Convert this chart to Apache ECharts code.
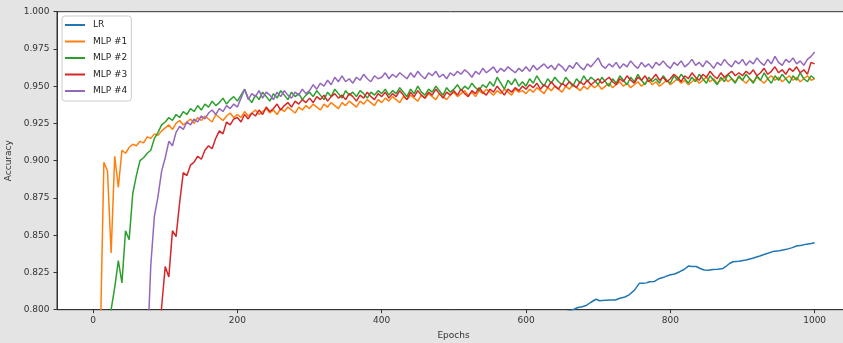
<!DOCTYPE html>
<html>
<head>
<meta charset="utf-8">
<script src="https://cdn.jsdelivr.net/npm/echarts@6/dist/echarts.min.js"></script>
<style>
html,body{margin:0;padding:0;background:#e4e4e4;}
#chart{width:843px;height:343px;}
</style>
</head>
<body>
<div id="chart"></div>
<script>
// Epoch grid (every 5 epochs) for the MLP curves
const epochs = [];
for (let e = 0; e <= 1000; e += 5) epochs.push(e);

const seriesNames = ['LR', 'MLP #1', 'MLP #2', 'MLP #3', 'MLP #4'];
const xTicks = [0, 200, 400, 600, 800, 1000];

const lrEpochs = [600, 665, 672, 678, 684, 690, 697, 702, 710, 716, 724, 730, 737, 743, 750, 757, 762, 767, 771, 778,
  785, 792, 799, 806, 813, 819, 825, 830, 836, 842, 847, 853, 859, 866, 873, 877, 882, 887, 895, 905,
  914, 924, 933, 942, 951, 961, 968, 975, 982, 989, 995, 1000];
const lrAcc = [0.790, 0.800, 0.8015, 0.802, 0.803, 0.805, 0.807, 0.806, 0.8063, 0.8065, 0.8065, 0.8077, 0.8085, 0.810, 0.813, 0.8177, 0.8177, 0.818, 0.8188, 0.819,
  0.821, 0.822, 0.8233, 0.824, 0.8255, 0.827, 0.8293, 0.8290, 0.829, 0.8275, 0.8266, 0.8265, 0.827, 0.8272, 0.8277, 0.829, 0.831, 0.8322, 0.8325, 0.8333,
  0.8345, 0.836, 0.8375, 0.839, 0.8395, 0.8405, 0.8415, 0.8427, 0.8432, 0.844, 0.8445, 0.845];

const mlp1Acc = [
  0.70, 0.74, 0.78, 0.899, 0.893, 0.838, 0.903, 0.882, 0.907, 0.905, 0.909, 0.911, 0.910, 0.913, 0.912, 0.916, 0.915, 0.918, 0.917, 0.920,
  0.922, 0.924, 0.921, 0.925, 0.927, 0.924, 0.926, 0.928, 0.925, 0.929, 0.927, 0.930, 0.928, 0.926, 0.931, 0.929, 0.927, 0.930, 0.932, 0.929,
  0.931, 0.929, 0.933, 0.930, 0.932, 0.934, 0.931, 0.933, 0.935, 0.932, 0.934, 0.931, 0.935, 0.933, 0.936, 0.934, 0.932, 0.936, 0.934, 0.937,
  0.935, 0.938, 0.936, 0.934, 0.938, 0.936, 0.939, 0.937, 0.935, 0.939, 0.937, 0.940, 0.938, 0.936, 0.940, 0.938, 0.941, 0.939, 0.937, 0.941,
  0.939, 0.942, 0.940, 0.943, 0.941, 0.939, 0.943, 0.941, 0.944, 0.942, 0.940, 0.944, 0.942, 0.945, 0.943, 0.941, 0.945, 0.943, 0.941, 0.944,
  0.946, 0.943, 0.945, 0.947, 0.944, 0.946, 0.943, 0.947, 0.945, 0.948, 0.946, 0.944, 0.947, 0.945, 0.948, 0.946, 0.944, 0.948, 0.946, 0.947,
  0.945, 0.948, 0.946, 0.949, 0.947, 0.945, 0.949, 0.947, 0.950, 0.948, 0.946, 0.950, 0.948, 0.951, 0.949, 0.947, 0.950, 0.948, 0.951, 0.949,
  0.951, 0.948, 0.950, 0.952, 0.949, 0.951, 0.953, 0.950, 0.952, 0.949, 0.951, 0.953, 0.950, 0.952, 0.954, 0.951, 0.953, 0.950, 0.952, 0.954,
  0.951, 0.953, 0.955, 0.952, 0.954, 0.951, 0.953, 0.955, 0.952, 0.954, 0.956, 0.953, 0.955, 0.952, 0.954, 0.956, 0.953, 0.955, 0.953, 0.956,
  0.954, 0.952, 0.955, 0.953, 0.956, 0.954, 0.952, 0.955, 0.957, 0.954, 0.956, 0.953, 0.955, 0.957, 0.954, 0.956, 0.953, 0.955, 0.957, 0.954, 0.955
];

const mlp2Acc = [
  0.60, 0.65, 0.70, 0.74, 0.77, 0.80, 0.815, 0.833, 0.818, 0.853, 0.847, 0.878, 0.890, 0.900, 0.902, 0.905, 0.907, 0.915, 0.919, 0.924,
  0.926, 0.929, 0.927, 0.931, 0.929, 0.933, 0.931, 0.935, 0.933, 0.937, 0.934, 0.938, 0.936, 0.940, 0.937, 0.939, 0.942, 0.938, 0.941, 0.943,
  0.940, 0.944, 0.948, 0.942, 0.939, 0.944, 0.941, 0.946, 0.943, 0.940, 0.945, 0.942, 0.947, 0.944, 0.941, 0.946, 0.943, 0.945, 0.941, 0.944,
  0.946, 0.943, 0.947, 0.944, 0.941, 0.946, 0.943, 0.948, 0.945, 0.942, 0.947, 0.944, 0.946, 0.943, 0.947, 0.945, 0.942, 0.946, 0.944, 0.947,
  0.945, 0.948, 0.944, 0.947, 0.945, 0.949, 0.946, 0.943, 0.948, 0.945, 0.950, 0.946, 0.944, 0.948, 0.946, 0.950, 0.947, 0.944, 0.949, 0.946,
  0.948, 0.951, 0.947, 0.950, 0.948, 0.952, 0.949, 0.947, 0.951, 0.949, 0.953, 0.950, 0.956, 0.952, 0.948, 0.954, 0.951, 0.955, 0.950, 0.953,
  0.950, 0.955, 0.952, 0.957, 0.953, 0.950, 0.955, 0.952, 0.956, 0.953, 0.951, 0.956, 0.953, 0.950, 0.955, 0.952, 0.957, 0.953, 0.956, 0.954,
  0.951, 0.956, 0.953, 0.950, 0.955, 0.952, 0.957, 0.954, 0.951, 0.956, 0.953, 0.958, 0.954, 0.951, 0.956, 0.953, 0.955, 0.952, 0.957, 0.954,
  0.952, 0.957, 0.954, 0.958, 0.955, 0.952, 0.956, 0.953, 0.958, 0.955, 0.952, 0.957, 0.954, 0.951, 0.956, 0.953, 0.958, 0.955, 0.952, 0.957,
  0.954, 0.958, 0.955, 0.952, 0.957, 0.954, 0.959, 0.955, 0.952, 0.957, 0.954, 0.958, 0.955, 0.952, 0.957, 0.954, 0.959, 0.955, 0.953, 0.957, 0.955
];

const mlp3Acc = [
  null, null, null, null, null, null, null, null, null, null, null, null, null, null, null, null, null, null, 0.76, 0.802,
  0.829, 0.822, 0.853, 0.849, 0.872, 0.892, 0.890, 0.897, 0.899, 0.903, 0.901, 0.907, 0.910, 0.908, 0.915, 0.920, 0.918, 0.926, 0.924, 0.928,
  0.929, 0.926, 0.931, 0.928, 0.932, 0.930, 0.934, 0.931, 0.936, 0.933, 0.935, 0.938, 0.934, 0.937, 0.939, 0.936, 0.940, 0.938, 0.941, 0.939,
  0.942, 0.939, 0.943, 0.941, 0.944, 0.940, 0.943, 0.945, 0.942, 0.944, 0.941, 0.945, 0.943, 0.940, 0.944, 0.942, 0.946, 0.943, 0.941, 0.945,
  0.943, 0.946, 0.942, 0.945, 0.943, 0.947, 0.944, 0.941, 0.946, 0.943, 0.947, 0.944, 0.942, 0.946, 0.944, 0.948, 0.945, 0.942, 0.946, 0.944,
  0.947, 0.944, 0.948, 0.945, 0.943, 0.947, 0.945, 0.949, 0.946, 0.944, 0.948, 0.946, 0.950, 0.947, 0.944, 0.948, 0.946, 0.949, 0.947, 0.950,
  0.948, 0.951, 0.949, 0.952, 0.948, 0.951, 0.949, 0.953, 0.950, 0.948, 0.952, 0.950, 0.953, 0.951, 0.949, 0.953, 0.951, 0.954, 0.951, 0.953,
  0.955, 0.952, 0.954, 0.956, 0.953, 0.951, 0.955, 0.953, 0.957, 0.954, 0.952, 0.956, 0.954, 0.957, 0.953, 0.955, 0.958, 0.954, 0.956, 0.953,
  0.955, 0.958, 0.956, 0.953, 0.957, 0.955, 0.959, 0.956, 0.954, 0.958, 0.956, 0.960, 0.957, 0.955, 0.959, 0.956, 0.958, 0.960, 0.957, 0.959,
  0.957, 0.960, 0.958, 0.961, 0.957, 0.959, 0.962, 0.958, 0.960, 0.963, 0.959, 0.961, 0.958, 0.962, 0.960, 0.963, 0.959, 0.961, 0.958, 0.966, 0.965
];

const mlp4Acc = [
  null, null, null, null, null, null, null, null, null, null, null, null, null, null, null, 0.77, 0.830, 0.863, 0.876, 0.893,
  0.902, 0.913, 0.910, 0.919, 0.923, 0.921, 0.926, 0.924, 0.928, 0.926, 0.930, 0.928, 0.932, 0.934, 0.931, 0.935, 0.933, 0.937, 0.935, 0.938,
  0.936, 0.942, 0.948, 0.941, 0.945, 0.943, 0.947, 0.942, 0.946, 0.944, 0.941, 0.946, 0.943, 0.947, 0.944, 0.942, 0.946, 0.944, 0.948, 0.945,
  0.947, 0.951, 0.948, 0.952, 0.950, 0.954, 0.951, 0.956, 0.953, 0.957, 0.953, 0.955, 0.952, 0.956, 0.954, 0.958, 0.955, 0.953, 0.957, 0.955,
  0.956, 0.959, 0.955, 0.958, 0.956, 0.959, 0.957, 0.955, 0.959, 0.956, 0.960, 0.957, 0.955, 0.959, 0.957, 0.960, 0.956, 0.958, 0.955, 0.959,
  0.957, 0.960, 0.958, 0.961, 0.959, 0.956, 0.960, 0.958, 0.962, 0.959, 0.961, 0.963, 0.959, 0.962, 0.960, 0.963, 0.961, 0.959, 0.962, 0.960,
  0.963, 0.960, 0.964, 0.961, 0.963, 0.965, 0.962, 0.964, 0.961, 0.965, 0.963, 0.960, 0.964, 0.962, 0.966, 0.963, 0.961, 0.965, 0.963, 0.966,
  0.969, 0.964, 0.962, 0.965, 0.963, 0.966, 0.962, 0.965, 0.963, 0.967, 0.964, 0.962, 0.966, 0.963, 0.965, 0.962, 0.966, 0.964, 0.967, 0.964,
  0.962, 0.966, 0.964, 0.967, 0.963, 0.965, 0.968, 0.964, 0.966, 0.963, 0.967, 0.965, 0.962, 0.966, 0.964, 0.968, 0.965, 0.963, 0.967, 0.965,
  0.968, 0.964, 0.967, 0.965, 0.969, 0.966, 0.964, 0.968, 0.965, 0.970, 0.966, 0.964, 0.968, 0.966, 0.969, 0.965, 0.967, 0.964, 0.968, 0.970, 0.973
];

const colors = ['#1f77b4', '#ff7f0e', '#2ca02c', '#d62728', '#9467bd'];

function pairs(xs, ys) {
  return xs.map((x, i) => [x, ys[i]]);
}

const seriesData = [
  pairs(lrEpochs, lrAcc),
  pairs(epochs, mlp1Acc),
  pairs(epochs, mlp2Acc),
  pairs(epochs, mlp3Acc),
  pairs(epochs, mlp4Acc)
];

const FONT = 'DejaVu Sans';
const chart = echarts.init(document.getElementById('chart'), null, { renderer: 'canvas' });

chart.setOption({
  animation: false,
  backgroundColor: '#e4e4e4',
  color: colors,
  grid: {
    left: 57, top: 11.7, right: -7, height: 298,
    show: true, backgroundColor: '#ffffff', borderColor: '#333333', borderWidth: 1,
    containLabel: false,
    outerBoundsMode: 'none'
  },
  legend: {
    data: seriesNames,
    orient: 'vertical',
    left: 62, top: 16,
    padding: [3, 4, 4, 3],
    itemGap: 4.5,
    itemWidth: 20, itemHeight: 2,
    icon: 'rect',
    backgroundColor: 'rgba(255,255,255,0.85)',
    borderColor: '#cccccc', borderWidth: 1, borderRadius: 3,
    textStyle: { fontFamily: FONT, fontSize: 9, color: '#222', lineHeight: 12, padding: [0, 0, 0, 3] }
  },
  xAxis: {
    type: 'value', min: -50, max: 1049,
    name: 'Epochs', nameLocation: 'middle', nameGap: 21,
    nameTextStyle: { fontFamily: FONT, fontSize: 9, color: '#333' },
    axisLine: { show: true, onZero: false, lineStyle: { color: '#333', width: 1 } },
    axisTick: { show: true, length: 3.5, lineStyle: { color: '#333' }, customValues: xTicks },
    axisLabel: { fontFamily: FONT, fontSize: 9, color: '#333', margin: 6, customValues: xTicks, formatter: v => String(v) },
    splitLine: { show: false }
  },
  yAxis: {
    type: 'value', min: 0.8, max: 1.0, interval: 0.025,
    name: 'Accuracy', nameLocation: 'middle', nameGap: 36,
    nameTextStyle: { fontFamily: FONT, fontSize: 9, color: '#333' },
    axisLine: { show: true, onZero: false, lineStyle: { color: '#333', width: 1 } },
    axisTick: { show: true, length: 3.5, lineStyle: { color: '#333' } },
    axisLabel: { fontFamily: FONT, fontSize: 9, color: '#333', margin: 7.5, formatter: v => v.toFixed(3) },
    splitLine: { show: false }
  },
  series: seriesNames.map((name, i) => ({
    name: name,
    type: 'line',
    data: seriesData[i],
    showSymbol: false,
    symbol: 'none',
    clip: true,
    connectNulls: false,
    lineStyle: { width: 1.5, color: colors[i] },
    itemStyle: { color: colors[i] },
    emphasis: { disabled: true }
  }))
});
</script>
</body>
</html>
